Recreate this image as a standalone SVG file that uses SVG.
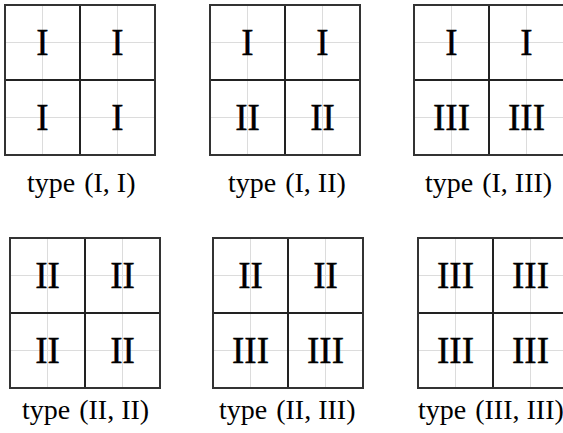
<svg xmlns="http://www.w3.org/2000/svg" width="563" height="433" viewBox="0 0 563 433">
<style>
.bg{fill:#fff}
.lt{stroke:#dcdcdc;stroke-width:1;fill:none}
.box{stroke:#333;stroke-width:2;fill:none}
.mid{stroke:#222;stroke-width:2;fill:none}
.num{font-family:"Liberation Serif","Times New Roman",serif;font-size:37px;fill:#000;stroke:#000;stroke-width:0.4;text-anchor:middle}
.lab{font-family:"Liberation Serif","Times New Roman",serif;font-size:28px;fill:#000}
</style>
<defs>
<g id="grid">
<rect x="0" y="0" width="150" height="150" fill="#fff"/>
<path class="lt" d="M37.5 0V150M112.5 0V150M0 37.5H150M0 112.5H150"/>
<path class="mid" d="M75 0V150M0 75H150"/>
<rect class="box" x="0" y="0" width="150" height="150"/>
</g>
</defs>
<rect class="bg" width="563" height="433"/>
<g id="p1" transform="translate(5,5)">
<use href="#grid"/>
<text class="num" x="37.5" y="49.5">I</text><text class="num" x="112.5" y="49.5">I</text>
<text class="num" x="37.5" y="124.5">I</text><text class="num" x="112.5" y="124.5">I</text>
</g>
<g id="p2" transform="translate(210,5)">
<use href="#grid"/>
<text class="num" x="37.5" y="49.5">I</text><text class="num" x="112.5" y="49.5">I</text>
<text class="num" x="37.5" y="124.5">II</text><text class="num" x="112.5" y="124.5">II</text>
</g>
<g id="p3" transform="translate(414,5)">
<use href="#grid"/>
<text class="num" x="37.5" y="49.5">I</text><text class="num" x="112.5" y="49.5">I</text>
<text class="num" x="37.5" y="124.5">III</text><text class="num" x="112.5" y="124.5">III</text>
</g>
<g id="p4" transform="translate(10,238)">
<use href="#grid"/>
<text class="num" x="37.5" y="49.5">II</text><text class="num" x="112.5" y="49.5">II</text>
<text class="num" x="37.5" y="124.5">II</text><text class="num" x="112.5" y="124.5">II</text>
</g>
<g id="p5" transform="translate(213,238)">
<use href="#grid"/>
<text class="num" x="37.5" y="49.5">II</text><text class="num" x="112.5" y="49.5">II</text>
<text class="num" x="37.5" y="124.5">III</text><text class="num" x="112.5" y="124.5">III</text>
</g>
<g id="p6" transform="translate(418,238)">
<use href="#grid"/>
<text class="num" x="37.5" y="49.5">III</text><text class="num" x="112.5" y="49.5">III</text>
<text class="num" x="37.5" y="124.5">III</text><text class="num" x="112.5" y="124.5">III</text>
</g>
<g id="labels">
<text class="lab" x="27" y="192">type<tspan dx="9">(I, I)</tspan></text>
<text class="lab" x="228" y="192">type<tspan dx="9">(I, II)</tspan></text>
<text class="lab" x="425" y="192">type<tspan dx="9">(I, III)</tspan></text>
<text class="lab" x="22" y="419">type<tspan dx="9">(II, II)</tspan></text>
<text class="lab" x="219" y="419">type<tspan dx="9">(II, III)</tspan></text>
<text class="lab" x="418" y="419">type<tspan dx="9">(III, III)</tspan></text>
</g>
</svg>
